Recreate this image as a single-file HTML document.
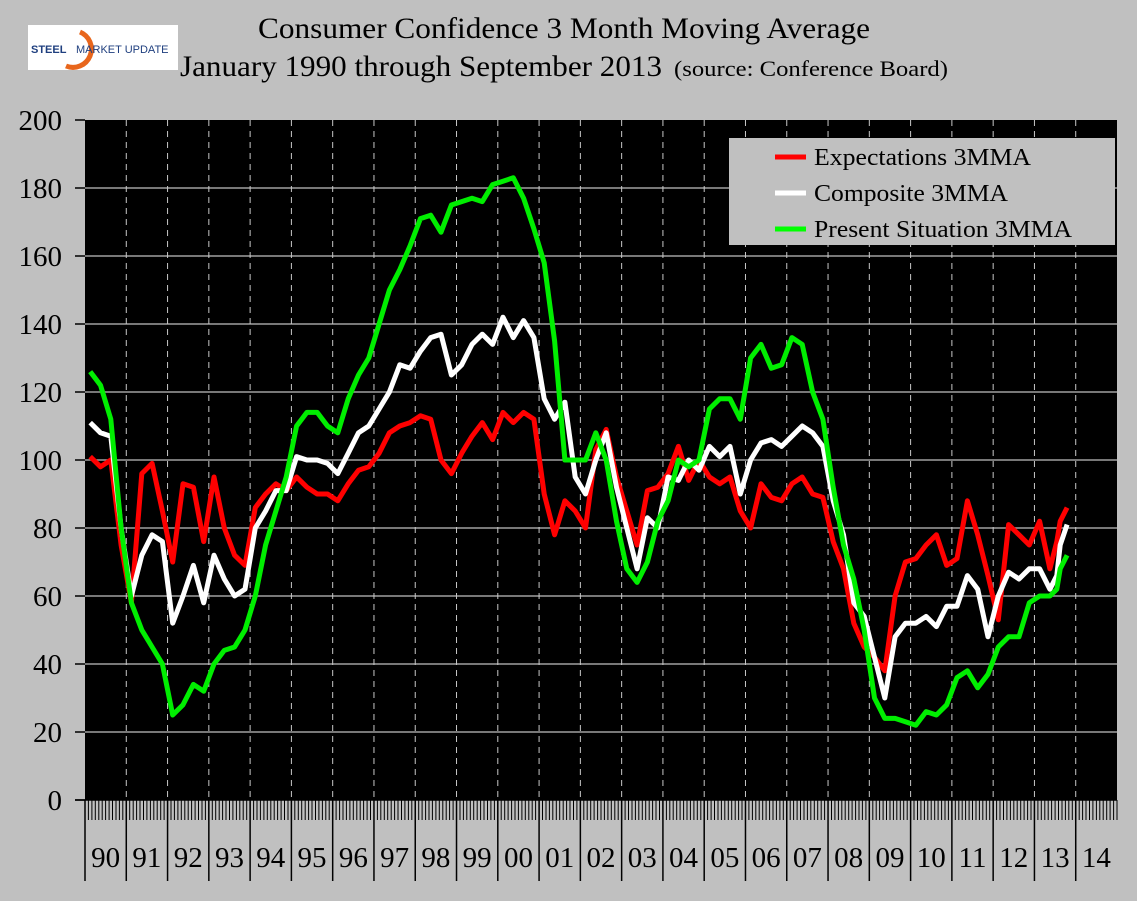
<!DOCTYPE html>
<html><head><meta charset="utf-8"><style>
body{margin:0;background:#c0c0c0;}
svg{display:block;font-family:"Liberation Serif",serif;}
</style></head><body>
<svg id="chart" width="1137" height="901" viewBox="0 0 1137 901">
<rect x="0" y="0" width="1137" height="901" fill="#c0c0c0"/>
<g>
<rect x="28" y="25" width="150" height="45" fill="#fff"/>
<path d="M80,32 A18,18 0 1 1 66,66" fill="none" stroke="#e8661c" stroke-width="5"/>
<text x="31" y="53" font-family="Liberation Sans,sans-serif" font-size="11" font-weight="bold" fill="#1f3f7f">STEEL</text>
<text x="76" y="53" font-family="Liberation Sans,sans-serif" font-size="11" fill="#1f3f7f">MARKET UPDATE</text>
</g>
<text x="258" y="38" font-size="30" textLength="612" lengthAdjust="spacingAndGlyphs">Consumer Confidence 3 Month Moving Average</text>
<text x="180" y="76" font-size="30" textLength="482" lengthAdjust="spacingAndGlyphs">January 1990 through September 2013</text>
<text x="674" y="76" font-size="22" textLength="274" lengthAdjust="spacingAndGlyphs">(source: Conference Board)</text>
<rect x="85" y="120" width="1032" height="680" fill="#000"/>
<g id="grid"></g>
<g id="yaxis"></g>
<g id="xaxis"></g>
<g id="series"></g>
<g>
<rect x="729" y="138" width="386" height="107" fill="#c0c0c0"/>
<line x1="775" y1="157" x2="806" y2="157" stroke="#f00" stroke-width="5"/>
<line x1="775" y1="193" x2="806" y2="193" stroke="#fff" stroke-width="5"/>
<line x1="775" y1="229" x2="806" y2="229" stroke="#0f0" stroke-width="5"/>
<text x="814" y="165" font-size="24" textLength="217" lengthAdjust="spacingAndGlyphs">Expectations 3MMA</text>
<text x="814" y="201" font-size="24" textLength="194" lengthAdjust="spacingAndGlyphs">Composite 3MMA</text>
<text x="814" y="237" font-size="24" textLength="258" lengthAdjust="spacingAndGlyphs">Present Situation 3MMA</text>
</g>
</svg>
<script>
const months=[0,3,6,9,12,15,18,21,24,27,30,33,36,39,42,45,48,51,54,57,60,63,66,69,72,75,78,81,84,87,90,93,96,99,102,105,108,111,114,117,120,123,126,129,132,135,138,141,144,147,150,153,156,159,162,165,168,171,174,177,180,183,186,189,192,195,198,201,204,207,210,213,216,219,222,225,228,231,234,237,240,243,246,249,252,255,258,261,264,267,270,273,276,279,281,282,284];
const expectations=[101,98,100,75, 58,96,99,85, 70,93,92,76, 95,80,72,69, 86,90,93,91, 95,92,90,90, 88,93,97,98, 102,108,110,111, 113,112,100,96, 102,107,111,106, 114,111,114,112, 90,78,88,85, 80,103,109,95, 85,75,91,92, 96,104,94,100, 95,93,95,85, 80,93,89,88, 93,95,90,89, 76,68,52,45, 42,38,60,70, 71,75,78,69, 71,88,78,66, 53,81,78,75, 82,68,76,82,86];
const composite=[111,108,107,80, 60,72,78,76, 52,60,69,58, 72,65,60,62, 80,85,91,91, 101,100,100,99, 96,102,108,110, 115,120,128,127, 132,136,137,125, 128,134,137,134, 142,136,141,136, 118,112,117,95, 90,100,108,92, 80,68,83,80, 95,94,100,97, 104,101,104,90, 100,105,106,104, 107,110,108,104, 88,78,58,54, 42,30,48,52, 52,54,51,57, 57,66,62,48, 60,67,65,68, 68,62,66,75,81];
const present=[126,122,112,80, 58,50,45,40, 25,28,34,32, 40,44,45,50, 60,75,85,95, 110,114,114,110, 108,118,125,130, 140,150,156,163, 171,172,167,175, 176,177,176,181, 182,183,177,168, 158,135,100,100, 100,108,100,82, 68,64,70,82, 88,100,98,100, 115,118,118,112, 130,134,127,128, 136,134,120,112, 92,75,65,50, 30,24,24,23, 22,26,25,28, 36,38,33,37, 45,48,48,58, 60,60,62,68,72];
const yTicks=[0,20,40,60,80,100,120,140,160,180,200];
const yearLabels=["90","91","92","93","94","95","96","97","98","99","00","01","02","03","04","05","06","07","08","09","10","11","12","13","14"];
const NS="http://www.w3.org/2000/svg";
const X0=85,X1=1117,Y0=800,Y1=120,NM=300;
const xs=m=>X0+(m+1.5)*(X1-X0)/NM;
const ys=v=>Y0-(v-0)*(Y0-Y1)/200;
function mk(tag,attrs,parent){const e=document.createElementNS(NS,tag);for(const k in attrs)e.setAttribute(k,attrs[k]);parent.appendChild(e);return e;}
const grid=document.getElementById('grid'),ya=document.getElementById('yaxis'),xa=document.getElementById('xaxis'),ser=document.getElementById('series');
yTicks.forEach(v=>{
  if(v>0&&v<200){const l=mk('line',{x1:X0,x2:X1,y1:ys(v),y2:ys(v),stroke:'#a0a0a0','stroke-width':1.5},grid);
  
  }
  const tk=mk('line',{x1:75,x2:X0,y1:ys(v),y2:ys(v),stroke:'#000','stroke-width':1.5},ya);
  
  
  const t=mk('text',{x:62,y:ys(v)+10,'text-anchor':'end','font-size':29},ya);
  t.textContent=v;
  
  
});
const yw=(X1-X0)/yearLabels.length;
yearLabels.forEach((lab,i)=>{
  const x=X0+i*yw;
  if(i>0){const d=mk('line',{x1:x,x2:x,y1:Y1,y2:Y0,stroke:'#c8c8c8','stroke-width':1,'stroke-dasharray':'6,5'},grid);
  
  }
  const s=mk('line',{x1:x,x2:x,y1:Y0,y2:881,stroke:'#000','stroke-width':1.5},xa);
  
  
  const t=mk('text',{x:x+yw/2,y:867,'text-anchor':'middle','font-size':29},xa);
  t.textContent=lab;
  
  
});
let tp='';for(let m=0;m<=NM;m++){const x=X0+m*(X1-X0)/NM;tp+=`M${x.toFixed(1)},${Y0}V820`;}
const ticks=mk('path',{d:tp,stroke:'#000','stroke-width':1},xa);


const ax=mk('line',{x1:75,x2:X1,y1:Y0,y2:Y0,stroke:'#000','stroke-width':1.5},xa);


[[expectations,'#ff0000','expectations-line'],[composite,'#ffffff','composite-line'],[present,'#00ee00','present-situation-line']].forEach(([arr,c,n])=>{
  const d=arr.map((v,i)=>(i?'L':'M')+xs(months[i]).toFixed(1)+','+ys(v).toFixed(1)).join('');
  const p=mk('path',{d:d,fill:'none',stroke:c,'stroke-width':5,'stroke-linejoin':'round'},ser);
  
  
});
</script>
</body></html>
